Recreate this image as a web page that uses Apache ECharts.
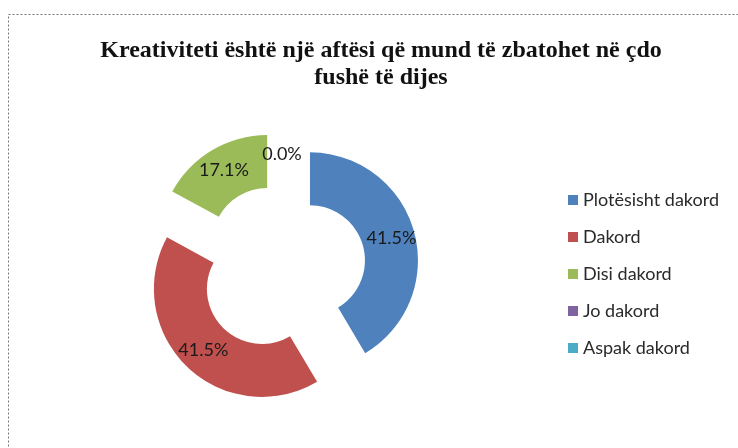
<!DOCTYPE html>
<html>
<head>
<meta charset="utf-8">
<script src="https://cdn.jsdelivr.net/npm/echarts@6/dist/echarts.min.js"></script>
<style>
  html, body { margin: 0; padding: 0; background: #fff; }
  #main { width: 738px; height: 448px; }
</style>
</head>
<body>
<div id="main"></div>
<script>
var categories = ['Plotësisht dakord', 'Dakord', 'Disi dakord', 'Jo dakord', 'Aspak dakord'];
var values = [41.5, 41.5, 17.1, 0, 0];
var colors = ['#4F81BD', '#C0504D', '#9BBB59', '#8064A2', '#4BACC6'];

var chartDom = document.getElementById('main');
var myChart = echarts.init(chartDom);
var option;

var pieData = [];
for (var i = 0; i < categories.length; i++) {
    pieData.push({
        name: categories[i],
        value: values[i],
        selected: true,
        // only one 0.0% label is visible in the original
        label: { show: i !== 4 }
    });
}

option = {
    color: colors,
    title: {
        text: 'Kreativiteti është një aftësi që mund të zbatohet në çdo\nfushë të dijes',
        left: 376,
        top: 32,
        textAlign: 'center',
        textStyle: {
            fontFamily: 'Liberation Serif',
            fontWeight: 'bold',
            fontSize: 24,
            lineHeight: 27,
            color: '#111'
        }
    },
    legend: {
        orient: 'vertical',
        left: 563,
        top: 185,
        itemWidth: 10,
        itemHeight: 10,
        itemGap: 17,
        icon: 'rect',
        data: categories,
        selectedMode: false,
        textStyle: {
            fontFamily: 'Lato',
            fontSize: 18,
            lineHeight: 20,
            color: '#2a2a2a'
        }
    },
    graphic: [{
        type: 'rect',
        left: 6,
        top: 12,
        shape: { width: 760, height: 460 },
        style: { fill: 'none', stroke: '#777', lineWidth: 1, lineDash: [2, 2] },
        silent: true
    }],
    series: [
        {
            type: 'pie',
            center: [282, 268],
            radius: [55, 108],
            startAngle: 90,
            clockwise: true,
            selectedMode: 'multiple',
            selectedOffset: 29,
            animation: false,
            label: {
                show: true,
                position: 'inside',
                fontFamily: 'Lato',
                fontSize: 18,
                color: '#1a1a1a',
                formatter: function (p) {
                    return p.value.toFixed(1) + '%';
                }
            },
            labelLayout: { hideOverlap: false },
            labelLine: { show: false },
            emphasis: { disabled: true },
            data: pieData
        }
    ]
};

option && myChart.setOption(option);
</script>
</body>
</html>
